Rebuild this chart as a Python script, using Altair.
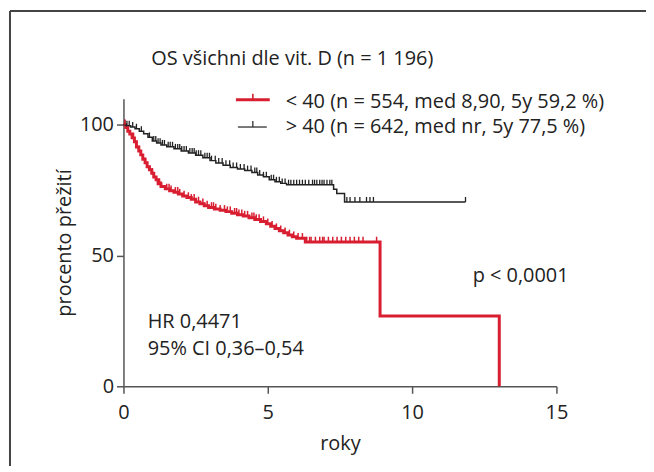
import bisect
import altair as alt
import pandas as pd

FONT = "Open Sans"
FS = 20
RED = "#d81e30"
BLK = "#222222"

# Kaplan-Meier step points (time in years, survival %)
red_t = [0, 0.08, 0.15, 0.22, 0.3, 0.38, 0.45, 0.53, 0.6, 0.67, 0.75, 0.82, 0.9, 0.98,
         1.05, 1.13, 1.2, 1.3, 1.45, 1.6, 1.75, 1.9, 2.05, 2.2, 2.35, 2.5, 2.65, 2.8,
         2.95, 3.15, 3.35, 3.55, 3.75, 3.95, 4.15, 4.35, 4.55, 4.75, 4.95, 5.1, 5.25,
         5.4, 5.55, 5.7, 5.85, 6.0, 6.3, 8.89, 13.02]
red_s = [100, 99, 97.5, 96.5, 95, 93.5, 91.5, 90, 88.5, 86.8, 85.5, 84, 82.8, 81.5,
         80, 79, 77.5, 76.4, 75.5, 74.8, 74.2, 73.5, 72.8, 72.2, 71.5, 70.5, 69.8, 69,
         68.4, 67.8, 67.3, 66.8, 66.2, 65.6, 65.1, 64.5, 63.8, 63, 62.2, 61.2, 60.3,
         59.5, 58.7, 57.9, 57.2, 56.6, 55.2, 26.9, 0]

blk_t = [0, 0.1, 0.25, 0.4, 0.55, 0.7, 0.85, 1.0, 1.15, 1.3, 1.5, 1.75, 2.0, 2.25,
         2.5, 2.75, 3.0, 3.2, 3.45, 3.7, 3.95, 4.2, 4.45, 4.65, 4.85, 5.05, 5.25, 5.45,
         5.65, 7.28, 7.39, 7.66, 11.85]
blk_s = [100, 99.6, 99.2, 98.5, 97.5, 96.6, 95.2, 93.8, 93, 92.3, 91.6, 90.8, 90, 89.2,
         88.4, 87.4, 86.3, 85.4, 84.5, 83.7, 83.1, 82.5, 81.8, 80.8, 80.1, 79, 78.2, 77.6,
         77.1, 75.4, 73.7, 70.5, 70.5]

# censored observations (years)
red_cens = [0.05, 0.15, 0.35, 0.55, 0.75, 1.0, 1.25, 1.3, 1.5, 1.58, 1.65, 1.8, 1.88,
            1.95, 2.1, 2.25, 2.35, 2.45, 2.6, 2.75, 2.9, 3.05, 3.12, 3.2, 3.35, 3.5, 3.6,
            3.7, 3.85, 3.92, 4.0, 4.1, 4.2, 4.3, 4.45, 4.52, 4.6, 4.7, 4.85, 5.0, 5.15,
            5.3, 5.45, 5.6, 5.75, 5.9, 6.05, 6.2, 6.35, 6.45, 6.5, 6.65, 6.8, 6.9, 6.95,
            7.1, 7.25, 7.4, 7.55, 7.7, 7.85, 8.0, 8.15, 8.3, 8.77]
blk_cens = [0.05, 0.12, 0.2, 0.32, 0.45, 0.62, 0.9, 1.05, 1.12, 1.2, 1.27, 1.35, 1.42,
            1.55, 1.62, 1.7, 1.8, 1.88, 1.95, 2.02, 2.1, 2.18, 2.3, 2.38, 2.45, 2.52,
            2.6, 2.68, 2.82, 2.9, 2.98, 3.05, 3.18, 3.3, 3.42, 3.55, 3.68, 3.8, 3.92,
            4.05, 4.18, 4.3, 4.42, 4.55, 4.62, 4.72, 4.85, 4.95, 5.12, 5.2, 5.3, 5.4,
            5.5, 5.6, 5.72, 5.8, 5.9, 6.0, 6.1, 6.2, 6.3, 6.42, 6.55, 6.62, 6.7, 6.8,
            6.88, 6.95, 7.05, 7.15, 7.22, 7.74, 7.85, 8.02, 8.19, 8.42, 8.54, 8.66, 11.85]

title_text = "OS všichni dle vit. D (n = 1 196)"
legend_red = "< 40 (n = 554, med 8,90, 5y 59,2 %)"
legend_blk = "> 40 (n = 642, med nr, 5y 77,5 %)"
x_ticks = [0, 5, 10, 15]
y_ticks = [0, 50, 100]

ann_x = [12.1, 0.84, 0.84]
ann_y = [40.0, 22.4, 11.9]
ann_text = ["p < 0,0001", "HR 0,4471", "95% CI 0,36–0,54"]


def surv_at(ts, ss, t):
    i = bisect.bisect_right(ts, t) - 1
    return ss[max(i, 0)]


red_df = pd.DataFrame({"t": red_t, "s": red_s})
blk_df = pd.DataFrame({"t": blk_t, "s": blk_s})
red_c_df = pd.DataFrame({"t": red_cens, "s": [surv_at(red_t, red_s, c) for c in red_cens]})
blk_c_df = pd.DataFrame({"t": blk_cens, "s": [surv_at(blk_t, blk_s, c) for c in blk_cens]})
ann_df = pd.DataFrame({"t": ann_x, "s": ann_y, "label": ann_text})
one = pd.DataFrame({"a": [0]})

W, H = 435, 289

xenc = alt.X("t:Q", scale=alt.Scale(domain=[0, 15], nice=False),
             axis=alt.Axis(values=x_ticks, title="roky", labelPadding=9, titlePadding=12,
                           labelFlush=False))
yenc = alt.Y("s:Q", scale=alt.Scale(domain=[0, 110], nice=False),
             axis=alt.Axis(values=y_ticks, title="procento přežití", labelPadding=3,
                           titlePadding=5, labelFlush=False))

red_line = alt.Chart(red_df).mark_line(interpolate="step-after", color=RED,
                                       strokeWidth=3).encode(x=xenc, y=yenc)
blk_line = alt.Chart(blk_df).mark_line(interpolate="step-after", color=BLK,
                                       strokeWidth=1.5).encode(x="t:Q", y="s:Q")
red_ticks = alt.Chart(red_c_df).mark_point(shape="M0,0L0,-1", size=110, filled=False,
                                           color=RED, strokeWidth=1.5, opacity=1
                                           ).encode(x="t:Q", y="s:Q")
blk_ticks = alt.Chart(blk_c_df).mark_point(shape="M0,0L0,-1", size=100, filled=False,
                                           color=BLK, strokeWidth=1.3, opacity=1
                                           ).encode(x="t:Q", y="s:Q")

ann = alt.Chart(ann_df).mark_text(align="left", baseline="alphabetic", font=FONT,
                                  fontSize=FS, color=BLK).encode(
    x="t:Q", y="s:Q", text="label:N")

base = alt.Chart(one)
title_m = base.mark_text(align="left", baseline="alphabetic", font=FONT, fontSize=FS,
                         color=BLK, text=title_text).encode(x=alt.value(28), y=alt.value(-34))
leg_red_line = base.mark_rule(color=RED, strokeWidth=3).encode(
    x=alt.value(113), x2=alt.value(147), y=alt.value(1))
leg_red_tick = base.mark_rule(color=RED, strokeWidth=1.6).encode(
    x=alt.value(130), y=alt.value(-5), y2=alt.value(1))
leg_blk_line = base.mark_rule(color=BLK, strokeWidth=1.2).encode(
    x=alt.value(115), x2=alt.value(144), y=alt.value(28.5))
leg_blk_tick = base.mark_rule(color=BLK, strokeWidth=1.2).encode(
    x=alt.value(130), y=alt.value(22.5), y2=alt.value(28.5))
leg_red_txt = base.mark_text(align="left", baseline="alphabetic", font=FONT, fontSize=FS,
                             color=BLK, text=legend_red).encode(x=alt.value(163), y=alt.value(9.5))
leg_blk_txt = base.mark_text(align="left", baseline="alphabetic", font=FONT, fontSize=FS,
                             color=BLK, text=legend_blk).encode(x=alt.value(163), y=alt.value(34.5))

frame_top = base.mark_rule(color="#444444", strokeWidth=2).encode(
    x=alt.value(-114), x2=alt.value(W + 90), y=alt.value(-88))
frame_left = base.mark_rule(color="#444444", strokeWidth=2).encode(
    x=alt.value(-114), y=alt.value(-88), y2=alt.value(H + 80))

chart = alt.layer(
    red_line, blk_line, blk_ticks, red_ticks, ann, title_m,
    leg_red_line, leg_red_tick, leg_blk_line, leg_blk_tick, leg_red_txt, leg_blk_txt,
    frame_top, frame_left,
).properties(
    width=W, height=H,
    autosize=alt.AutoSizeParams(type="none"),
    padding={"left": 116, "top": 90, "right": 90, "bottom": 80},
    background="white",
).configure_view(stroke=None).configure_axis(
    grid=False, domainColor="#555555", domainWidth=1.5, tickColor="#555555",
    tickWidth=1.5, tickSize=7, labelFont=FONT, labelFontSize=FS, labelColor=BLK,
    titleFont=FONT, titleFontSize=FS, titleFontWeight="normal", titleColor=BLK,
)

chart.save("out.html", embed_options={"renderer": "svg", "actions": False})
